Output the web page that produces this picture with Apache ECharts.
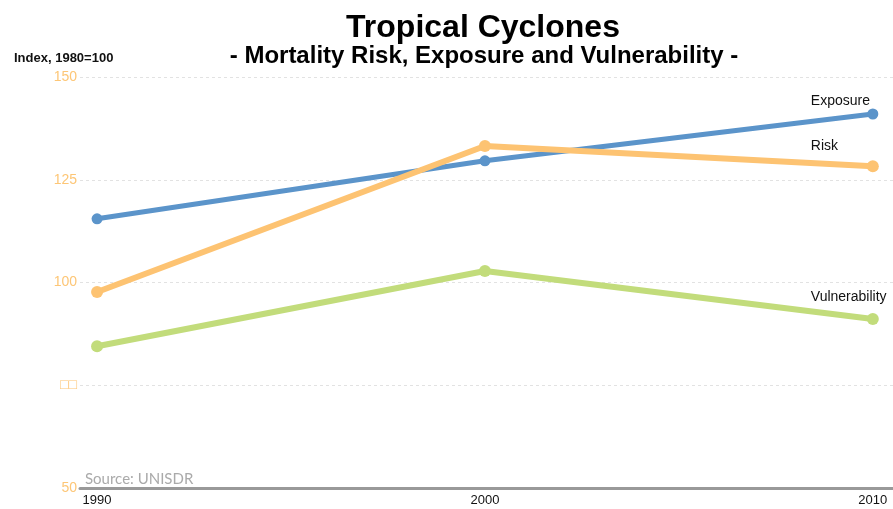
<!DOCTYPE html>
<html>
<head>
<meta charset="utf-8">
<script src="https://cdn.jsdelivr.net/npm/echarts@6/dist/echarts.min.js"></script>
<style>
  html, body { margin: 0; padding: 0; background: #fff; }
  #chart { width: 893px; height: 509px; }
</style>
</head>
<body>
<div id="chart"></div>
<script>
// 数据
var years = [1990, 2000, 2010]
var exposure = [115.5, 129.6, 141.0]
var risk = [97.7, 133.2, 128.3]
var vulnerability = [84.5, 102.8, 91.1]
var yTicks = [50, 75, 100, 125, 150]

var FONT = 'Liberation Sans, Arial, sans-serif'

function pairs(vals) {
  return years.map(function (y, i) { return [y, vals[i]] })
}

// 最后一个点上的标签
function withEndLabel(vals, name, dy) {
  var data = pairs(vals)
  var last = data.length - 1
  data[last] = {
    value: data[last],
    label: {
      show: true,
      position: 'inside',
      align: 'left',
      verticalAlign: 'middle',
      offset: [-62, dy],
      formatter: name,
      color: '#111',
      fontSize: 14,
      fontFamily: FONT
    }
  }
  return data
}

var chart = echarts.init(document.getElementById('chart'))
chart.setOption({
  animation: false,
  graphic: [
    {
      type: 'text',
      x: 483,
      y: 28,
      style: { text: 'Tropical Cyclones', fill: '#000', font: 'bold 32px ' + FONT, textAlign: 'center', textVerticalAlign: 'middle' }
    },
    {
      type: 'text',
      x: 484,
      y: 56,
      style: { text: '- Mortality Risk, Exposure and Vulnerability -', fill: '#000', font: 'bold 24px ' + FONT, textAlign: 'center', textVerticalAlign: 'middle' }
    },
    {
      type: 'text',
      x: 14,
      y: 58,
      style: { text: 'Index, 1980=100', fill: '#111', font: 'bold 13px ' + FONT, textVerticalAlign: 'middle' }
    },
    {
      type: 'text',
      x: 85,
      y: 479,
      style: { text: 'Source: UNISDR', fill: '#aaa', font: '15px Lato, sans-serif', textVerticalAlign: 'middle' }
    }
  ],
  grid: { left: 80, right: 0, top: 77, bottom: 21 },
  xAxis: {
    type: 'value',
    min: 1989.56,
    max: 2010.52,
    splitLine: { show: false },
    axisTick: { show: false },
    axisLine: { show: true, lineStyle: { color: '#999', width: 3 } },
    axisLabel: {
      customValues: years,
      color: '#111',
      fontSize: 13,
      margin: 6,
      fontFamily: FONT,
      formatter: function (v) { return String(v) }
    }
  },
  yAxis: {
    type: 'value',
    min: yTicks[0],
    max: yTicks[yTicks.length - 1],
    interval: 25,
    axisLine: { show: false },
    axisTick: { show: false },
    axisLabel: {
      color: '#fdc676',
      fontSize: 14,
      margin: 3,
      fontFamily: FONT,
      formatter: function (v) { return v === 75 ? '□□' : String(v) }
    },
    splitLine: { lineStyle: { color: '#e2e2e2', type: [3, 3], width: 1 } }
  },
  series: [
    {
      name: 'Exposure',
      type: 'line',
      data: withEndLabel(exposure, 'Exposure', -13),
      symbol: 'circle',
      symbolSize: 11,
      lineStyle: { color: '#5b94ca', width: 5 },
      itemStyle: { color: '#5b94ca' },
      z: 3
    },
    {
      name: 'Risk',
      type: 'line',
      data: withEndLabel(risk, 'Risk', -20),
      symbol: 'circle',
      symbolSize: 12,
      lineStyle: { color: '#fdc372', width: 6 },
      itemStyle: { color: '#fdc372' },
      z: 4
    },
    {
      name: 'Vulnerability',
      type: 'line',
      data: withEndLabel(vulnerability, 'Vulnerability', -22),
      symbol: 'circle',
      symbolSize: 12,
      lineStyle: { color: '#c2dc7b', width: 6 },
      itemStyle: { color: '#c2dc7b' },
      z: 3
    }
  ]
})
</script>
</body>
</html>
